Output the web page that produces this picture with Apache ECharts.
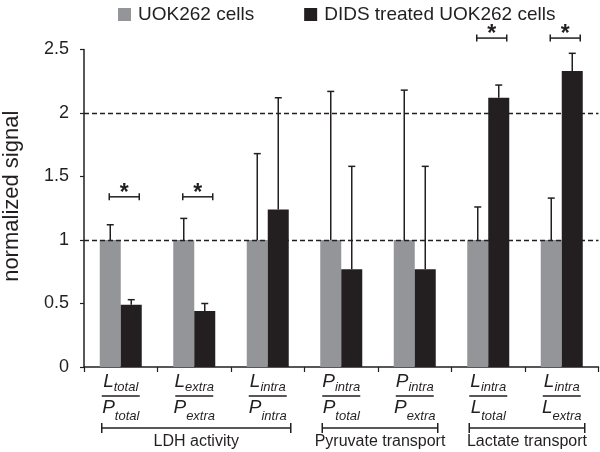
<!DOCTYPE html>
<html>
<head>
<meta charset="utf-8">
<script src="https://cdn.jsdelivr.net/npm/echarts@6/dist/echarts.min.js"></script>
<style>html,body{margin:0;padding:0;background:#fff}#c{width:600px;height:452px}</style>
</head>
<body>
<div id="c"></div>
<script>
// ---- data ----
const numMain = ['L', 'L', 'L', 'P', 'P', 'L', 'L'];
const numSub = ['total', 'extra', 'intra', 'intra', 'intra', 'intra', 'intra'];
const denMain = ['P', 'P', 'P', 'P', 'P', 'L', 'L'];
const denSub = ['total', 'extra', 'intra', 'total', 'extra', 'total', 'extra'];
const seriesNames = ['UOK262 cells', 'DIDS treated UOK262 cells'];
const uokValues = [1, 1, 1, 1, 1, 1, 1];
const uokErrTop = [1.12, 1.17, 1.68, 2.17, 2.18, 1.26, 1.33];
const didsValues = [0.49, 0.44, 1.24, 0.77, 0.77, 2.12, 2.33];
const didsErrTop = [0.53, 0.50, 2.12, 1.58, 1.58, 2.22, 2.47];
const sigCategories = [0, 1, 5, 6];
const sigLevels = [1.34, 1.34, 2.59, 2.59];
const groupNames = ['LDH activity', 'Pyruvate transport', 'Lactate transport'];
const groupStart = [0, 3, 5];
const groupEnd = [2, 4, 6];
const yTicks = { min: 0, max: 2.5, interval: 0.5 };
const refLines = [1, 2];

// ---- chart ----
const FONT = '"Liberation Sans", Arial, Helvetica, sans-serif';
const INK = '#231f20';
const GREY = '#939598';
const BAR_W = 21;
const categories = numMain.map((_, i) => String(i));

function errRender(offset) {
  return function (params, api) {
    const c = api.coord([api.value(0), 0]);
    const x = c[0] + offset;
    const y0 = api.coord([api.value(0), api.value(1)])[1];
    const y1 = api.coord([api.value(0), api.value(2)])[1];
    const st = { stroke: INK, lineWidth: 1.5 };
    return {
      type: 'group',
      children: [
        { type: 'line', shape: { x1: x, y1: y0, x2: x, y2: y1 }, style: st },
        { type: 'line', shape: { x1: x - 3.5, y1: y1, x2: x + 3.5, y2: y1 }, style: st }
      ]
    };
  };
}

const chart = echarts.init(document.getElementById('c'), null, { renderer: 'canvas' });
chart.setOption({
  animation: false,
  textStyle: { fontFamily: FONT, color: INK },
  legend: {
    data: seriesNames,
    left: 113,
    top: 0,
    icon: 'rect',
    itemWidth: 13,
    itemHeight: 13,
    itemGap: 50,
    textStyle: { fontSize: 19, color: INK, fontFamily: FONT, padding: [0, 0, 0, 2] }
  },
  grid: { left: 84, right: 1.5, top: 49.5, bottom: 85, containLabel: false, outerBoundsMode: 'none' },
  xAxis: {
    type: 'category',
    data: categories,
    axisLine: { lineStyle: { color: INK, width: 1.5 } },
    axisTick: { show: true, length: 5, lineStyle: { color: INK, width: 1.2 } },
    axisLabel: {
      margin: 5,
      interval: 0,
      align: 'center',
      formatter: (v, i) => `{L|${numMain[i]}}{s|${numSub[i]}}\n{hr|}\n{P|${denMain[i]}}{s2|${denSub[i]}}`,
      rich: {
        L: { fontSize: 19, fontStyle: 'italic', fontFamily: FONT, color: INK, padding: [0, 0, 3, 0], verticalAlign: 'bottom', align: 'center' },
        s: { fontSize: 13, fontStyle: 'italic', fontFamily: FONT, color: INK, verticalAlign: 'bottom', align: 'center' },
        hr: { width: 38, height: 0, borderWidth: 1.4, borderColor: INK, lineHeight: 4, align: 'center' },
        P: { fontSize: 19, fontStyle: 'italic', fontFamily: FONT, color: INK, padding: [0, 0, 6, 0], verticalAlign: 'bottom', align: 'center' },
        s2: { fontSize: 13, fontStyle: 'italic', fontFamily: FONT, color: INK, verticalAlign: 'bottom', align: 'center' }
      }
    }
  },
  yAxis: {
    type: 'value',
    min: yTicks.min,
    max: yTicks.max,
    interval: yTicks.interval,
    name: 'normalized signal',
    nameLocation: 'middle',
    nameGap: 61,
    nameTextStyle: { fontSize: 22, color: INK, fontFamily: FONT, padding: [0, 0, 0, 24] },
    axisLine: { show: true, lineStyle: { color: INK, width: 1.5 } },
    axisTick: { show: true, length: 4, lineStyle: { color: INK, width: 1.2 } },
    axisLabel: { fontSize: 18, color: INK, fontFamily: FONT, margin: 15 },
    splitLine: { show: false }
  },
  series: [
    {
      name: seriesNames[0],
      type: 'bar',
      data: uokValues,
      barWidth: BAR_W,
      barGap: '0%',
      itemStyle: { color: GREY },
      markLine: {
        silent: true,
        symbol: 'none',
        label: { show: false },
        lineStyle: { type: [5, 3], color: INK, width: 1.3 },
        data: refLines.map(v => ({ yAxis: v }))
      }
    },
    {
      name: seriesNames[1],
      type: 'bar',
      data: didsValues,
      barWidth: BAR_W,
      barGap: '0%',
      itemStyle: { color: INK }
    },
    {
      type: 'custom',
      z: 5,
      silent: true,
      renderItem: errRender(-BAR_W / 2),
      encode: { x: 0, y: [1, 2] },
      data: uokValues.map((v, i) => [i, v, uokErrTop[i]])
    },
    {
      type: 'custom',
      z: 5,
      silent: true,
      renderItem: errRender(BAR_W / 2),
      encode: { x: 0, y: [1, 2] },
      data: didsValues.map((v, i) => [i, v, didsErrTop[i]])
    },
    {
      type: 'custom',
      z: 5,
      silent: true,
      clip: false,
      renderItem: function (params, api) {
        const p = api.coord([api.value(0), api.value(1)]);
        const x0 = p[0] - 11.5, x1 = p[0] + 18.5, y = p[1];
        const st = { stroke: INK, lineWidth: 1.5 };
        return {
          type: 'group',
          children: [
            { type: 'line', shape: { x1: x0, y1: y, x2: x1, y2: y }, style: st },
            { type: 'line', shape: { x1: x0, y1: y - 3.5, x2: x0, y2: y + 3.5 }, style: st },
            { type: 'line', shape: { x1: x1, y1: y - 3.5, x2: x1, y2: y + 3.5 }, style: st },
            { type: 'text', style: { x: (x0 + x1) / 2, y: y - 3, text: '*', fill: INK, font: 'bold 23px ' + FONT, align: 'center', verticalAlign: 'middle' } }
          ]
        };
      },
      encode: { x: 0, y: 1 },
      data: sigCategories.map((c, i) => [c, sigLevels[i]])
    },
    {
      type: 'custom',
      z: 5,
      silent: true,
      clip: false,
      renderItem: function (params, api) {
        const a = api.coord([api.value(0), 0]);
        const b = api.coord([api.value(1), 0]);
        const x0 = a[0] - 19, x1 = b[0] + 23, y = a[1] + 61;
        const st = { stroke: INK, lineWidth: 1.5 };
        return {
          type: 'group',
          children: [
            { type: 'line', shape: { x1: x0, y1: y, x2: x1, y2: y }, style: st },
            { type: 'line', shape: { x1: x0, y1: y - 5, x2: x0, y2: y + 5 }, style: st },
            { type: 'line', shape: { x1: x1, y1: y - 5, x2: x1, y2: y + 5 }, style: st },
            { type: 'text', style: { x: (x0 + x1) / 2, y: y + 14, text: groupNames[params.dataIndex], fill: INK, font: '16px ' + FONT, align: 'center', verticalAlign: 'middle' } }
          ]
        };
      },
      encode: { x: [0, 1], y: 2 },
      data: groupStart.map((s, i) => [s, groupEnd[i], 0])
    }
  ]
});
</script>
</body>
</html>
